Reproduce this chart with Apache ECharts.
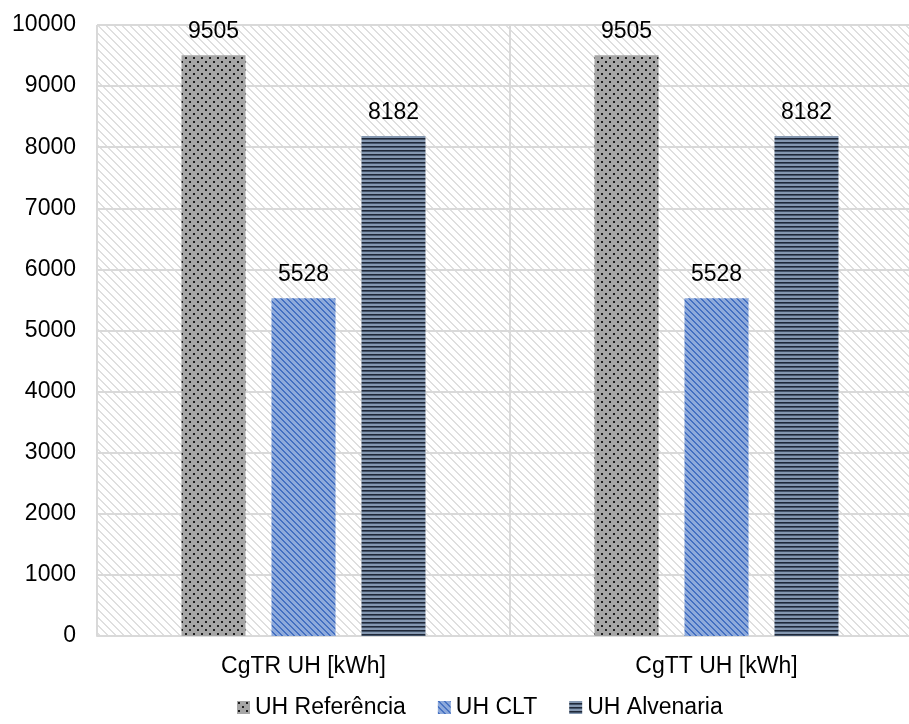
<!DOCTYPE html>
<html>
<head>
<meta charset="utf-8">
<script src="https://cdn.jsdelivr.net/npm/echarts@6/dist/echarts.min.js"></script>
<style>
  html, body { margin: 0; padding: 0; background: #ffffff; }
  #chart { width: 909px; height: 724px; }
</style>
</head>
<body>
<div id="chart"></div>
<script>
// Categories, series and tick values
const categories = ['CgTR UH [kWh]', 'CgTT UH [kWh]'];
const seriesNames = ['UH Referência', 'UH CLT', 'UH Alvenaria'];
const referenciaValues = [9505, 9505];
const cltValues = [5528, 5528];
const alvenariaValues = [8182, 8182];
const yTicks = { min: 0, max: 10000, interval: 1000 };

// Small tiled canvases used as fill patterns
function makeTile(w, h, paint) {
  const c = document.createElement('canvas');
  c.width = w; c.height = h;
  const ctx = c.getContext('2d');
  paint(ctx, w, h);
  return { image: c, repeat: 'repeat' };
}

// plot background: light downward diagonal lines on white
const bgPattern = makeTile(8, 8, (ctx, w, h) => {
  ctx.fillStyle = '#ffffff'; ctx.fillRect(0, 0, w, h);
  ctx.fillStyle = '#dfdfdf';
  for (let y = 0; y < h; y++) for (let x = 0; x < w; x++) {
    const m = ((x - y) % 8 + 8) % 8;
    if (m === 0 || m === 1) ctx.fillRect(x, y, 1, 1);
  }
});

// dotted grey
const dotPattern = makeTile(8, 8, (ctx, w, h) => {
  ctx.fillStyle = '#a6a6a6'; ctx.fillRect(0, 0, w, h);
  ctx.fillStyle = '#1e1e1e';
  ctx.fillRect(1, 1, 2, 2);
  ctx.fillRect(5, 5, 2, 2);
});

// blue with dark downward diagonal stripes
const diagPattern = makeTile(6, 6, (ctx, w, h) => {
  ctx.fillStyle = '#8eaadb'; ctx.fillRect(0, 0, w, h);
  ctx.fillStyle = '#4470c2';
  for (let y = 0; y < h; y++) for (let x = 0; x < w; x++) {
    const m = ((x - y) % 6 + 6) % 6;
    if (m === 0 || m === 1) ctx.fillRect(x, y, 1, 1);
  }
});

// slate horizontal stripes
const stripePattern = makeTile(4, 4, (ctx, w, h) => {
  ctx.fillStyle = '#8497b0'; ctx.fillRect(0, 0, w, 2);
  ctx.fillStyle = '#1f2838'; ctx.fillRect(0, 2, w, 1);
  ctx.fillStyle = '#44546a'; ctx.fillRect(0, 3, w, 1);
});

const chart = echarts.init(document.getElementById('chart'), null, { renderer: 'canvas' });

const fontFamily = 'Liberation Sans, Arial, sans-serif';
const labelStyle = {
  show: true, position: 'top', distance: 12,
  color: '#000000', fontSize: 23, fontFamily: fontFamily
};

function barSeries(name, values, pattern) {
  return {
    name: name,
    type: 'bar',
    data: values,
    barWidth: 64,
    barGap: '40.6%',
    itemStyle: { color: pattern },
    label: labelStyle,
    emphasis: { disabled: true }
  };
}

chart.setOption({
  animation: false,
  grid: {
    left: 97, top: 25, width: 826, height: 611,
    outerBoundsMode: 'none',
    containLabel: false,
    show: true, backgroundColor: bgPattern, borderWidth: 0
  },
  legend: {
    bottom: 0,
    left: 232,
    itemWidth: 13,
    itemHeight: 13,
    itemGap: 32,
    icon: 'rect',
    textStyle: { color: '#000000', fontSize: 23, fontFamily: fontFamily },
    data: seriesNames
  },
  xAxis: {
    type: 'category',
    data: categories,
    axisLine: { show: true, lineStyle: { color: '#d9d9d9', width: 2 } },
    axisTick: { show: false },
    splitLine: { show: true, lineStyle: { color: '#d9d9d9', width: 2 } },
    axisLabel: { color: '#000000', fontSize: 23, fontFamily: fontFamily, margin: 19 }
  },
  yAxis: {
    type: 'value',
    min: yTicks.min, max: yTicks.max, interval: yTicks.interval,
    axisLine: { show: false },
    axisTick: { show: false },
    splitLine: { lineStyle: { color: '#d9d9d9', width: 2 } },
    axisLabel: {
      color: '#000000', fontSize: 23, fontFamily: fontFamily, margin: 21,
      formatter: (v) => String(v)
    }
  },
  series: [
    barSeries(seriesNames[0], referenciaValues, dotPattern),
    barSeries(seriesNames[1], cltValues, diagPattern),
    barSeries(seriesNames[2], alvenariaValues, stripePattern)
  ]
});
</script>
</body>
</html>
